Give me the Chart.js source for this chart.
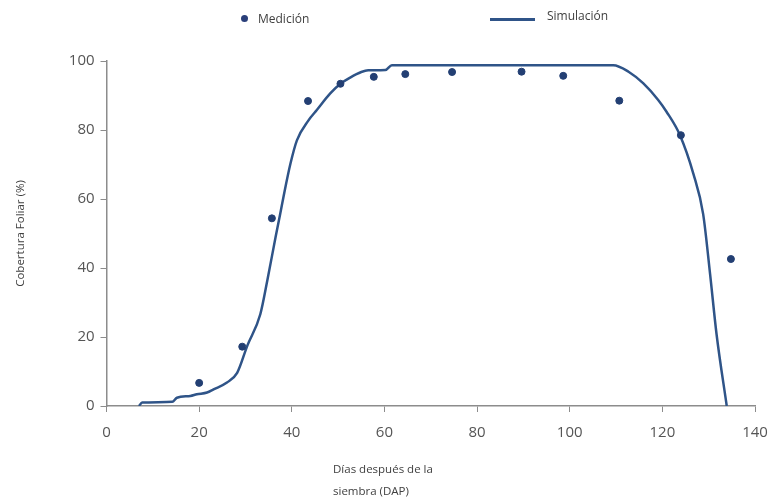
<!DOCTYPE html>
<html>
<head>
<meta charset="utf-8">
<script src="https://cdn.jsdelivr.net/npm/chart.js@4/dist/chart.umd.min.js"></script>
<style>
  html, body { margin: 0; padding: 0; background: #fff; }
  #wrap { position: relative; width: 774px; height: 499px; }
  canvas { position: absolute; left: 0; top: 0; }
  .lg { position: absolute; font-family: "Open Sans", "Noto Sans", sans-serif; font-size: 12px; color: #404040; white-space: nowrap; }
  .dot { position: absolute; width: 7px; height: 7px; border-radius: 50%; background: #2a3f7a; }
  .ln { position: absolute; width: 45px; height: 3px; background: #2f5488; }
  #xtitle { position: absolute; left: 333px; top: 458px; font-family: "Open Sans", "Noto Sans", sans-serif; font-size: 11.5px; color: #404040; line-height: 22px; }
</style>
</head>
<body>
<div id="wrap">
  <canvas id="c" width="774" height="499"></canvas>
  <div class="dot" style="left:241px; top:15px;"></div>
  <div class="lg" style="left:258px; top:10px;">Medición</div>
  <div class="ln" style="left:490px; top:18px;"></div>
  <div class="lg" style="left:547px; top:7px;">Simulación</div>
  <div id="xtitle">Días después de la<br>siembra (DAP)</div>
</div>
<script>
// Measured data (Medición)
const medX = [20, 29.3, 35.7, 43.5, 50.5, 57.7, 64.5, 74.6, 89.6, 98.6, 110.7, 124, 134.8];
const medY = [6.7, 17.2, 54.4, 88.4, 93.4, 95.4, 96.2, 96.8, 96.9, 95.7, 88.5, 78.5, 42.6];

// Simulated curve (Simulación)
const simX = [7, 7.7, 14.2, 15.2, 18.1, 19.5, 21.7, 23.1, 26, 28.2, 30.4, 33.2, 34.7, 36.5, 37.5, 38.2, 39.7, 41.1, 43.6, 45.4, 48.3, 50.5, 52.6, 55, 56.5, 60.2, 61.6, 109.4, 112.7, 115.9, 119.1, 120.9, 123.8, 126.7, 128.8, 130.3, 131.7, 133.9];
const simY = [0, 1, 1.2, 2.4, 2.9, 3.4, 3.9, 4.8, 6.8, 9.6, 17.5, 26.6, 36.3, 49, 55.7, 60.6, 70.2, 77, 82.8, 85.8, 90.6, 93.4, 95.2, 96.8, 97.3, 97.4, 98.8, 98.8, 96.9, 93.5, 88.7, 85.3, 78.5, 67.3, 55.7, 38.3, 20.8, 0];

const xTicks = [0, 20, 40, 60, 80, 100, 120, 140];
const yTicks = [0, 20, 40, 60, 80, 100];

const tickFont = { family: "'Open Sans', 'Noto Sans', sans-serif", size: 15 };
const axisColor = '#8c8c8c';

new Chart(document.getElementById('c'), {
  type: 'scatter',
  data: {
    datasets: [
      {
        label: 'Simulación',
        type: 'line',
        data: simX.map((x, i) => ({ x: x, y: simY[i] })),
        borderColor: '#2f5488',
        borderWidth: 2.5,
        pointRadius: 0,
        fill: false,
        cubicInterpolationMode: 'monotone',
        order: 2
      },
      {
        label: 'Medición',
        data: medX.map((x, i) => ({ x: x, y: medY[i] })),
        backgroundColor: '#233f73',
        borderColor: '#233f73',
        pointRadius: 3.5,
        order: 1
      }
    ]
  },
  options: {
    responsive: false,
    animation: false,
    layout: { padding: { left: 14, right: 19, top: 61, bottom: 45 } },
    plugins: { legend: { display: false }, tooltip: { enabled: false } },
    scales: {
      x: {
        type: 'linear',
        min: 0, max: 140,
        afterBuildTicks: (s) => { s.ticks = xTicks.map(v => ({ value: v })); },
        afterFit: (s) => { s.paddingRight = 0; s.paddingLeft = 0; },
        ticks: { color: '#555', font: tickFont, padding: 12 },
        grid: { drawOnChartArea: false, drawTicks: true, tickLength: 6, color: axisColor },
        border: { color: axisColor, width: 1.5 }
      },
      y: {
        type: 'linear',
        min: 0, max: 100,
        afterBuildTicks: (s) => { s.ticks = yTicks.map(v => ({ value: v })); },
        ticks: { color: '#555', font: tickFont, padding: 6 },
        grid: { drawOnChartArea: false, drawTicks: true, tickLength: 6, color: axisColor },
        border: { color: axisColor, width: 1.5 },
        title: {
          display: true,
          text: 'Cobertura Foliar (%)',
          color: '#404040',
          font: { family: "'Open Sans', 'Noto Sans', sans-serif", size: 11.5 },
          padding: { top: 0, bottom: 35 }
        }
      }
    }
  }
});
</script>
</body>
</html>
